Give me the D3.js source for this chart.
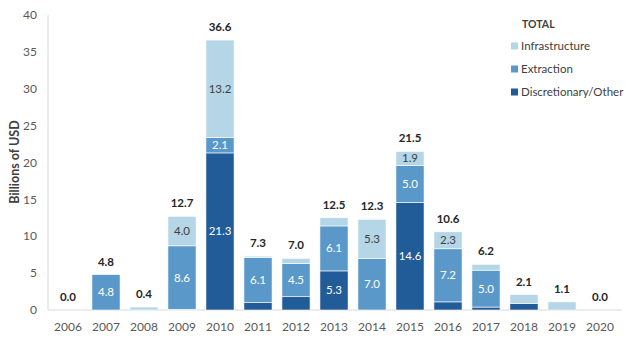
<html>
<head>
  <script src="https://d3js.org/d3.v7.min.js"></script>
  <style>
  body { margin: 0; background: #fff; }
  text { font-family: Lato, "Open Sans", sans-serif; }
  </style>
</head>
<body>
  <svg id="chart" width="636" height="342"></svg>
  <script>

  const years = ["2006","2007","2008","2009","2010","2011","2012","2013","2014","2015","2016","2017","2018","2019","2020"];
  const discretionary = [0, 0, 0, 0.1, 21.3, 1.0, 1.8, 5.3, 0, 14.6, 1.1, 0.4, 0.9, 0, 0];
  const extraction = [0, 4.8, 0, 8.6, 2.1, 6.1, 4.5, 6.1, 7.0, 5.0, 7.2, 5.0, 0, 0, 0];
  const infrastructure = [0, 0, 0.4, 4.0, 13.2, 0.2, 0.7, 1.1, 5.3, 1.9, 2.3, 0.8, 1.2, 1.1, 0];
  const totals = [0.0, 4.8, 0.4, 12.7, 36.6, 7.3, 7.0, 12.5, 12.3, 21.5, 10.6, 6.2, 2.1, 1.1, 0.0];
  const yTicks = [0, 5, 10, 15, 20, 25, 30, 35, 40];

  const seriesNames = ["Discretionary/Other", "Extraction", "Infrastructure"];
  const colors = {"Discretionary/Other": "#215b98", "Extraction": "#5a98c9", "Infrastructure": "#b4d6e7"};
  const labelColors = {"Discretionary/Other": "#fff", "Extraction": "#fff", "Infrastructure": "#404040"};

  const svg = d3.select("#chart");
  const x = d3.scaleBand().domain(years).range([49, 619]).paddingInner(0.26).paddingOuter(0.13);
  const y = d3.scaleLinear().domain([0, 40]).range([310, 15]);

  const rows = years.map((yr, i) => ({
    year: yr,
    "Discretionary/Other": discretionary[i],
    "Extraction": extraction[i],
    "Infrastructure": infrastructure[i],
    total: totals[i]
  }));
  const stack = d3.stack().keys(seriesNames)(rows);

  // axes
  svg.append("line").attr("x1", 48).attr("x2", 48).attr("y1", y(40)).attr("y2", y(0))
     .attr("stroke", "#d9d9d9");
  svg.append("line").attr("x1", 48).attr("x2", 622).attr("y1", y(0)).attr("y2", y(0))
     .attr("stroke", "#d9d9d9");

  svg.selectAll("text.ytick").data(yTicks).join("text")
     .attr("class", "ytick")
     .attr("x", 37).attr("y", d => y(d)).attr("dy", "0.35em")
     .attr("text-anchor", "end").attr("fill", "#595959").style("font-size", "12px")
     .text(d => d);

  svg.selectAll("text.xtick").data(years).join("text")
     .attr("class", "xtick")
     .attr("x", d => x(d) + x.bandwidth() / 2).attr("y", 327).attr("dy", "0.35em")
     .attr("text-anchor", "middle").attr("fill", "#595959").style("font-size", "12px")
     .text(d => d);

  svg.append("text")
     .attr("transform", "translate(15,162) rotate(-90)")
     .attr("text-anchor", "middle").attr("dy", "0.35em")
     .attr("fill", "#404040").style("font-size", "12.5px").style("font-weight", "bold")
     .text("Billions of USD");

  // bars
  const layer = svg.selectAll("g.layer").data(stack).join("g")
     .attr("class", "layer").attr("fill", d => colors[d.key]);
  layer.selectAll("rect").data(d => d).join("rect")
     .attr("x", d => x(d.data.year))
     .attr("width", x.bandwidth())
     .attr("y", d => y(d[1]))
     .attr("height", d => Math.max(0, y(d[0]) - y(d[1])))
     .attr("stroke", "#fff").attr("stroke-width", d => (d[1] - d[0]) > 0 ? 0.6 : 0);

  // segment labels (small slivers left unlabelled)
  stack.forEach(s => {
    svg.selectAll(null).data(s.filter(d => d[1] - d[0] >= 1.85)).join("text")
       .attr("x", d => x(d.data.year) + x.bandwidth() / 2)
       .attr("y", d => (y(d[0]) + y(d[1])) / 2).attr("dy", "0.35em")
       .attr("text-anchor", "middle").attr("fill", labelColors[s.key])
       .style("font-size", "11.5px")
       .text(d => (d[1] - d[0]).toFixed(1));
  });

  // totals
  svg.selectAll("text.total").data(rows).join("text")
     .attr("class", "total")
     .attr("x", d => x(d.year) + x.bandwidth() / 2)
     .attr("y", d => y(d["Discretionary/Other"] + d["Extraction"] + d["Infrastructure"]) - 13)
     .attr("dy", "0.35em")
     .attr("text-anchor", "middle").attr("fill", "#262626")
     .style("font-size", "11.5px").style("font-weight", "bold")
     .text(d => d.total.toFixed(1));

  // legend
  const legend = svg.append("g").attr("transform", "translate(511,0)");
  legend.append("text").attr("x", 11).attr("y", 24).attr("dy", "0.35em")
        .attr("fill", "#404040").style("font-size", "10.5px").style("font-weight", "bold")
        .text("TOTAL");
  const legendItems = ["Infrastructure", "Extraction", "Discretionary/Other"];
  legendItems.forEach((k, i) => {
    const ly = 46 + i * 23;
    legend.append("rect").attr("x", 0).attr("y", ly - 3.5).attr("width", 7).attr("height", 7)
          .attr("fill", colors[k]);
    legend.append("text").attr("x", 10).attr("y", ly).attr("dy", "0.35em")
          .attr("fill", "#404040").style("font-size", "11.5px").text(k);
  });

  </script>
</body>
</html>
